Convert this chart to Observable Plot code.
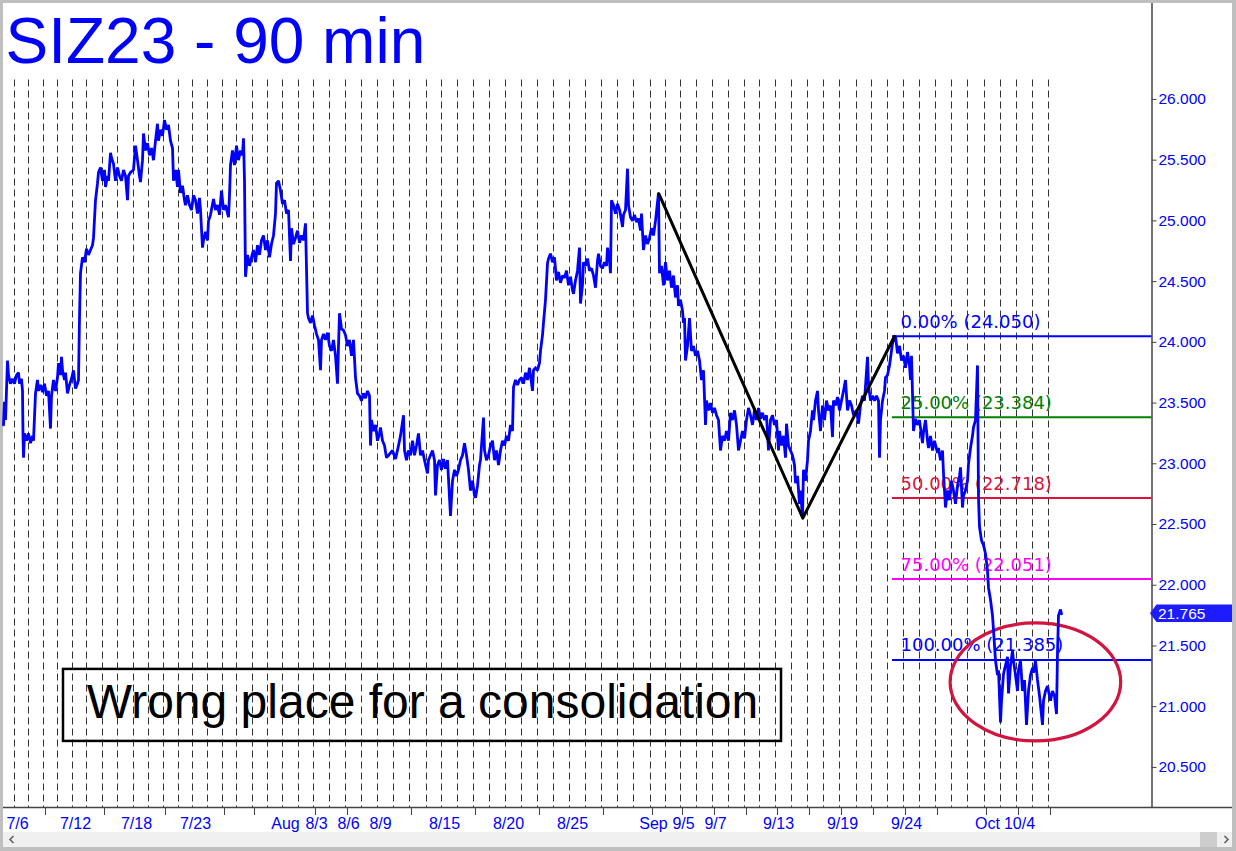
<!DOCTYPE html>
<html><head><meta charset="utf-8">
<script src="https://cdn.jsdelivr.net/npm/d3@7"></script>
<script src="https://cdn.jsdelivr.net/npm/@observablehq/plot@0.6"></script>
<style>
html,body{margin:0;padding:0;background:#fff;}
#frame{position:relative;width:1236px;height:851px;background:#bfbfbf;overflow:hidden;}
#chart{position:absolute;left:3px;top:3px;width:1229px;height:829px;background:#fff;}
#scroll{position:absolute;left:3px;top:832px;width:1229px;height:15px;background:#f0f0f0;}
#thumb{position:absolute;left:1197px;top:0;width:17px;height:15px;background:#cdcdcd;}
.arr{position:absolute;top:0;}
</style></head><body>
<div id="frame">
  <div id="chart"></div>
  <div id="scroll">
    <svg class="arr" style="left:4px" width="10" height="15"><path d="M6.5,4 L3,7.5 L6.5,11" fill="none" stroke="#606060" stroke-width="1.6"/></svg>
    <div id="thumb"></div>
    <svg class="arr" style="left:1218px" width="10" height="15"><path d="M3.5,4 L7,7.5 L3.5,11" fill="none" stroke="#606060" stroke-width="1.6"/></svg>
  </div>
</div>
<script>
// ---------- data ----------
const title = "SIZ23 - 90 min";
// bar index (one 90-minute bar per pixel column) at which each daily session starts
const sessionStarts = [11,25,40,54,69,83,99,114,130,145,160,175,189,204,219,233,249,264,279,295,310,326,342,358,374,390,406,423,438,454,470,486,502,518,534,550,566,582,598,614,630,647,662,677,693,709,725,741,756,772,788,804,820,836,853,868,884,900,916,932,948,964,981,997,1013,1029,1045];
const dateLabels = ["7/6","7/12","7/18","7/23","Aug","8/3","8/6","8/9","8/15","8/20","8/25","Sep","9/5","9/7","9/13","9/19","9/24","Oct","10/4"];
const dateLabelSessions = [0,4,8,12,18,20,22,24,28,32,36,41,43,45,49,53,57,62,64];
const axisTickSessions = [2,6,10,14,16,20,22,26,30,34,38,41,43,45,47,49,51,53,55,57,59,62,64,66];
const priceTicks = [20.5,21,21.5,22,22.5,23,23.5,24,24.5,25,25.5,26];
// [bar, price]
const series = [
[0,23.32],[1,23.51],[2,23.36],[4,23.85],[5,23.73],[7,23.66],[9,23.70],[11,23.66],[13,23.73],[15,23.75],[16,23.66],[18,23.70],[19,23.60],[19.5,23.23],[20,23.05],[21,23.25],[23,23.19],[25,23.25],[27,23.17],[29,23.23],[30,23.19],[32,23.58],[34,23.69],[35,23.60],[37,23.65],[39,23.59],[41,23.66],[43,23.56],[45,23.60],[47,23.29],[48,23.56],[50,23.69],[52,23.60],[54,23.71],[55,23.83],[57,23.73],[58,23.88],[59,23.77],[61,23.69],[62,23.75],[64,23.58],[66,23.65],[68,23.70],[70,23.77],[72,23.62],[74,23.66],[75,23.69],
[76,24.20],[77,24.57],[79,24.70],[81,24.66],[83,24.77],[85,24.72],[87,24.76],[89,24.80],[90,24.86],[92,25.17],[94,25.31],[95,25.40],[97,25.44],[99,25.33],[101,25.42],[102,25.28],[104,25.37],[105,25.33],[107,25.56],[108,25.52],[110,25.47],[112,25.33],[114,25.44],[116,25.37],[118,25.33],[120,25.42],[122,25.37],[124,25.17],[125,25.37],[127,25.40],[130,25.42],[132,25.62],[134,25.50],[136,25.37],[137,25.32],[139,25.50],[140,25.72],[142,25.58],[144,25.64],[146,25.54],[148,25.60],[150,25.50],[152,25.66],[154,25.80],[155,25.66],[157,25.75],[159,25.70],[161,25.83],[163,25.75],[165,25.79],[167,25.66],[169,25.60],[170,25.33],[172,25.42],[174,25.28],[175,25.42],[177,25.23],[179,25.29],[181,25.17],[182,25.13],[184,25.21],[186,25.13],[188,25.09],[190,25.21],[192,25.17],[194,25.06],[196,25.19],[197,25.09],[199,24.78],[200,24.84],[202,24.91],[204,24.84],[205,25.00],[207,25.05],[210,25.18],[212,25.09],[214,25.13],[216,25.05],[218,25.25],[220,25.09],[222,25.13],[225,25.03],[226,25.21],[227,25.46],[229,25.58],[231,25.46],[233,25.62],[235,25.50],[237,25.58],[239,25.54],[240,25.68],[241,25.33],[242,24.54],
[244,24.72],[246,24.63],[248,24.70],[250,24.76],[252,24.66],[254,24.80],[256,24.72],[258,24.84],[260,24.88],[262,24.76],[264,24.84],[266,24.70],[268,24.81],[270,24.88],[272,25.06],[273,25.31],[275,25.33],[277,25.25],[279,25.14],[281,25.17],[283,25.06],[285,25.09],[287,24.67],[288,24.94],[290,24.81],[292,24.86],[294,24.92],[296,24.82],[298,24.88],[300,24.84],[302,24.98],[304,24.24],[305,24.20],[307,24.16],[309,24.22],[311,24.14],[313,24.07],[315,24.02],[317,23.77],[318,24.02],[320,24.07],[322,24.02],[324,24.08],[326,23.97],[328,23.93],[330,24.02],[332,23.89],[334,23.66],[335,23.97],[336,24.24],[338,24.11],[340,24.10],[342,24.06],[344,23.97],[346,24.02],[348,23.89],[350,24.02],[352,23.71],[354,23.58],[356,23.56],[358,23.52],[360,23.58],[362,23.54],[364,23.60],[366,23.56],[367,23.15],[368,23.36],[370,23.27],[372,23.32],[374,23.19],[376,23.25],[377,23.30],[379,23.19],[381,23.15],[383,23.05],
[385,23.07],[387,23.09],[389,23.11],[392,23.04],[395,23.15],[397,23.23],[400,23.40],[401,23.11],[403,23.03],[405,23.11],[407,23.07],[409,23.19],[411,23.07],[413,23.15],[415,23.25],[417,23.07],[419,23.11],[421,23.03],[424,22.92],[425,23.03],[427,23.07],[429,23.11],[431,23.03],[432,22.74],[434,22.99],[436,23.03],[438,22.95],[440,23.04],[442,22.96],[444,23.03],[447,22.57],[449,22.86],[451,22.95],[453,22.90],[455,22.95],[457,23.03],[459,23.07],[461,23.17],[463,23.07],[465,22.95],[467,22.78],[469,22.86],[471,22.74],[472,22.72],[474,22.82],[476,22.99],[477,23.03],[480,23.38],[481,23.11],[483,23.03],[485,23.07],[487,23.15],[489,23.19],[491,23.03],[493,23.11],[495,22.99],[497,23.11],[499,23.19],[501,23.15],[503,23.23],[505,23.19],[507,23.32],[509,23.27],[510,23.63],[512,23.69],[514,23.65],[516,23.69],[518,23.71],[520,23.66],[522,23.75],[524,23.69],[526,23.79],[529,23.60],[530,23.77],[532,23.79],[534,23.77],[536,23.83],[537,23.93],[539,24.06],[540,24.16],[542,24.35],[544,24.65],[545,24.69],[547,24.73],[549,24.66],[551,24.70],[553,24.51],[555,24.58],[557,24.49],[559,24.55],[561,24.53],[563,24.59],[565,24.47],[567,24.54],[569,24.43],[570,24.40],[572,24.51],[574,24.59],[576,24.78],[577,24.32],[579,24.47],[580,24.66],[582,24.63],[584,24.69],[586,24.59],[588,24.61],[590,24.55],[592,24.45],[594,24.67],[595,24.73],[597,24.63],[599,24.61],[601,24.66],[603,24.63],[604,24.78],[606,24.67],[607,24.57],[608,25.17],[610,25.13],[612,25.06],[614,25.14],[616,25.09],[617,25.05],[619,24.95],[620,25.05],[622,25.09],[624,25.43],[625,25.13],[627,25.03],[629,25.00],[631,25.05],[633,24.99],[635,25.02],[637,24.92],[638,25.06],[640,24.76],[642,24.88],[644,24.81],[646,24.86],[648,24.94],[650,24.88],[652,25.00],[655,25.23],[656,24.57],
[658,24.63],[660,24.47],[662,24.66],[664,24.51],[666,24.59],[668,24.45],[670,24.55],[672,24.37],[674,24.47],[675,24.30],[677,24.35],[679,24.26],[680,24.16],[681,24.20],[682,23.85],[684,23.97],[686,24.20],[688,23.93],[690,23.97],[692,23.89],[694,23.93],[696,23.85],[698,23.69],[700,23.77],[702,23.32],[703,23.52],[705,23.44],[707,23.50],[709,23.42],[711,23.46],[713,23.40],[715,23.36],[717,23.11],[719,23.23],[721,23.19],[723,23.27],[725,23.19],[727,23.42],[729,23.36],[731,23.44],[733,23.32],[735,23.11],[737,23.19],[739,23.27],[741,23.21],[743,23.36],[745,23.46],[747,23.40],[749,23.32],[751,23.44],[753,23.36],[755,23.46],[757,23.37],[759,23.42],[761,23.36],[763,23.40],[765,23.11],[767,23.36],[769,23.40],[771,23.32],[773,23.36],[775,23.11],[776,23.27],[778,23.15],[780,23.23],[782,23.05],[783,23.33],[785,23.15],[787,23.11],[789,23.07],[791,22.99],[792,22.84],[794,22.90],[796,22.67],[797,22.78],[799,22.56],[800,22.95],[802,22.86],[804,23.03],[805,23.19],[807,23.27],[809,23.44],[810,23.36],[812,23.52],[814,23.60],[815,23.44],[817,23.27],[819,23.48],[821,23.36],[823,23.52],[825,23.44],[827,23.48],[829,23.22],[830,23.52],[832,23.48],[834,23.55],[836,23.44],[838,23.52],[840,23.60],[842,23.69],[844,23.44],[846,23.52],[848,23.48],[850,23.40],[853,23.44],[855,23.33],[857,23.48],[859,23.56],[861,23.52],[864,23.88],[865,23.65],[867,23.52],[869,23.56],[871,23.52],[873,23.56],[875,23.52],[876,23.05],[877,23.36],[879,23.52],[881,23.60],[882,23.71],[884,23.73],[886,23.81],[889,23.99],[890,24.02],[892,24.05],
[894,23.91],[896,23.97],[898,23.85],[900,23.89],[902,23.79],[904,23.92],[906,23.81],[907,23.69],[908,23.89],[910,23.27],[912,23.37],[914,23.32],[916,23.36],[919,23.17],[920,23.26],[922,23.36],[924,23.19],[925,23.13],[927,23.23],[929,23.11],[931,23.19],[934,23.09],[935,23.13],[937,23.03],[939,23.11],[940,22.92],[942,22.64],[944,22.78],[946,22.70],[948,22.86],[950,22.78],[952,22.67],[954,22.82],[956,22.90],[957,22.97],[959,22.64],[960,22.74],[962,22.78],[964,22.86],[965,23.00],[967,23.13],[969,23.23],[970,23.30],[972,23.36],[974,23.81],[975,22.72],[976,22.48],[978,22.37],[980,22.33],[982,22.26],[984,22.12],[985,21.98],[987,21.88],[989,21.75],[990,21.63],[992,21.38],[994,21.26],[995,21.30],[997,20.87],[998,21.05],[1000,21.27],[1002,21.34],[1004,21.41],[1005,21.11],[1007,21.34],[1009,21.46],[1010,21.38],[1012,21.26],[1014,21.13],[1015,21.30],[1017,21.38],[1019,21.13],[1021,21.22],[1023,20.85],[1025,21.13],[1027,21.26],[1029,21.32],[1030,21.28],[1032,21.38],[1034,21.22],[1036,21.09],[1039,20.85],[1040,21.05],[1042,21.13],[1044,21.17],[1045,21.13],[1047,21.05],[1049,21.13],[1051,21.09],[1053,20.94],[1054,21.44],[1055,21.75],[1057,21.80],[1058,21.765]
];
const lastPrice = 21.765;
// zigzag swing points [bar, price]
const zigzag = [[655.3,25.224],[799.3,22.553],[891,24.05]];
// retracement levels
const fibPct = ["0.00%","25.00%","50.00%","75.00%","100.00%"];
const fibLevel = [24.050,23.384,22.718,22.051,21.385];
const fibColor = ["#0000ff","#008000","#dc143c","#ff00ff","#0000ff"];
const fibStartBar = 889, fibLabelBar = 897;
// annotation
const ellipse = {bar: 1032.4, price: 21.20, halfBars: 85.3, halfPrice: 0.486};
const note = {text: "Wrong place for a consolidation", x1: 60, x2: 778, y1: 20.714, y2: 21.307, x: 419, y: 21.03};

// ---------- layout constants ----------
const X_MAX = 1148.5, X_EDGE = 1229, Y_MIN = 20.17, Y_MAX = 26.79, GRID_TOP = 26.16;
const fibs = fibPct.map((p, i) => ({label: `${p} (${fibLevel[i].toFixed(3)})`, level: fibLevel[i], color: fibColor[i]}));
const dates = dateLabels.map((l, i) => ({label: l, bar: sessionStarts[dateLabelSessions[i]]}));

const ellipseMark = (index, scales) => {
  const sx = scales.x, sy = scales.y;
  const cx = sx(ellipse.bar), cy = sy(ellipse.price);
  const rx = sx(ellipse.bar + ellipse.halfBars) - cx;
  const ry = sy(ellipse.price - ellipse.halfPrice) - cy;
  const g = d3.create("svg:g");
  g.append("ellipse").attr("cx", cx).attr("cy", cy).attr("rx", rx).attr("ry", ry)
    .attr("fill", "none").attr("stroke", "#d2143f").attr("stroke-width", 3.2);
  return g.node();
};
const tagMark = (index, scales) => {
  const sx = scales.x, sy = scales.y;
  const tip = sx(X_MAX - 1.5), left = sx(X_MAX + 5), right = sx(X_EDGE), cy = sy(lastPrice), h = 8.7;
  const g = d3.create("svg:g");
  g.append("path").attr("d", `M${tip},${cy}L${left},${cy - h}L${right},${cy - h}L${right},${cy + h}L${left},${cy + h}Z`)
    .attr("fill", "#1c1cff");
  return g.node();
};

const chart = Plot.plot({
  width: 1229, height: 829,
  marginLeft: 0, marginTop: 0, marginRight: 1229 - X_MAX, marginBottom: 25,
  x: {domain: [0, X_MAX], axis: null},
  y: {domain: [Y_MIN, Y_MAX], axis: null},
  style: {background: "white", fontFamily: "'Liberation Sans', Arial, sans-serif", overflow: "visible"},
  marks: [
    Plot.ruleX(sessionStarts, {x: d => d, y1: GRID_TOP, y2: Y_MIN, stroke: "#333", strokeWidth: 1, strokeDasharray: "7,4"}),
    Plot.ruleY([Y_MIN], {y: d => d, x1: 0, x2: X_EDGE, stroke: "#444", strokeWidth: 1.5}),
    Plot.ruleX([X_MAX], {x: d => d, y1: Y_MIN, y2: Y_MAX, stroke: "#444", strokeWidth: 1.5}),
    Plot.ruleY(priceTicks, {y: d => d, x1: X_MAX, x2: X_MAX + 5, stroke: "#444", strokeWidth: 1}),
    Plot.text(priceTicks, {x: X_MAX + 6.5, y: d => d, text: d => d.toFixed(3), textAnchor: "start", lineAnchor: "middle", fill: "#0000ff", fontSize: 15.5}),
    Plot.ruleX(axisTickSessions, {x: i => sessionStarts[i] + 2, y1: Y_MIN, y2: Y_MIN - 0.066, stroke: "#444", strokeWidth: 1}),
    Plot.text(dates, {x: d => d.bar + 3, text: d => d.label, frameAnchor: "bottom", dy: 21.5, lineAnchor: "bottom", textAnchor: "middle", fill: "#0000ff", fontSize: 16}),
    Plot.ruleY(fibs, {y: d => d.level, x1: fibStartBar, x2: X_MAX, stroke: d => d.color, strokeWidth: 2}),
    Plot.text(fibs, {x: fibLabelBar, y: d => d.level, text: d => d.label, fill: d => d.color, dy: -8.5, lineAnchor: "bottom", textAnchor: "start", fontSize: 18, fontFamily: "'DejaVu Sans', Verdana, sans-serif"}),
    ellipseMark,
    Plot.line(series, {x: d => d[0], y: d => d[1], stroke: "#0000ff", strokeWidth: 2.8, strokeLinejoin: "miter", strokeMiterlimit: 2}),
    Plot.line(zigzag, {x: d => d[0], y: d => d[1], stroke: "black", strokeWidth: 3}),
    Plot.rect([note], {x1: d => d.x1, x2: d => d.x2, y1: d => d.y1, y2: d => d.y2, fill: "none", stroke: "black", strokeWidth: 2.5}),
    Plot.text([note], {x: d => d.x, y: d => d.y, text: d => d.text, fill: "black", fontSize: 48, lineAnchor: "middle", textAnchor: "middle"}),
    Plot.text([title], {frameAnchor: "top-left", dx: 2, dy: 59, text: d => d, lineAnchor: "bottom", textAnchor: "start", fill: "#0000ff", fontSize: 64}),
    tagMark,
    Plot.text([lastPrice], {x: X_MAX + 6, y: d => d, text: d => d.toFixed(3), textAnchor: "start", lineAnchor: "middle", fill: "white", fontSize: 15.5})
  ]
});
document.getElementById("chart").appendChild(chart);
</script>
</body></html>
